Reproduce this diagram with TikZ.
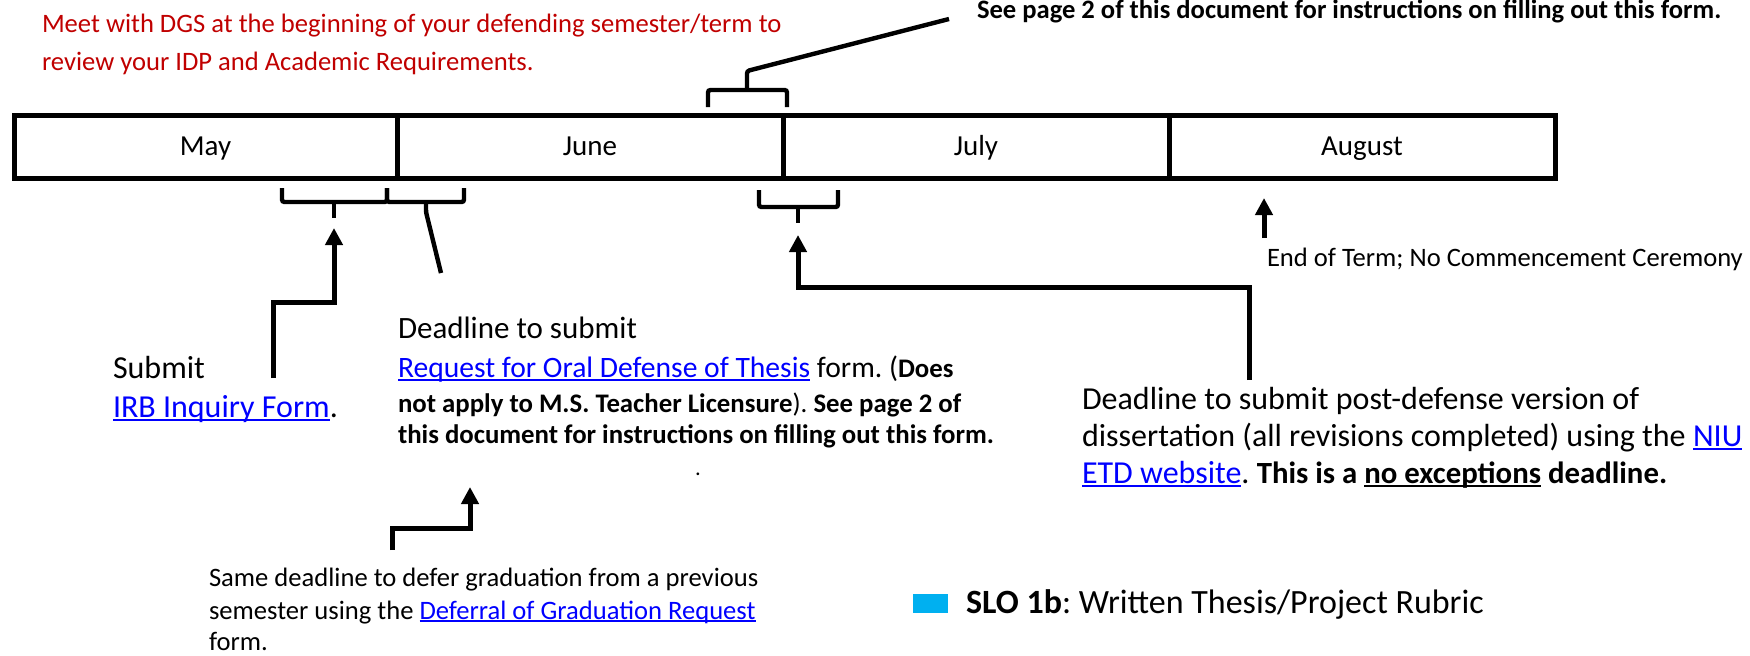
\documentclass[tikz,border=0pt]{standalone}
\usepackage{fontspec}
\setmainfont{Carlito}
\usetikzlibrary{arrows.meta}
\definecolor{darkred}{HTML}{C00000}
\definecolor{linkblue}{HTML}{0000FF}
\definecolor{slo}{HTML}{00B0F0}
\frenchspacing
\newcommand\ulink[1]{\leavevmode\setbox0\hbox{#1}\rlap{\rule[-0.12em]{\wd0}{0.065em}}\box0\relax}
\newcommand\setfs[1]{\fontsize{#1}{#1}\selectfont}
\tikzset{
  txt/.style={anchor=base west, inner sep=0pt, outer sep=0pt},
  month/.style={draw, line width=2.5pt, minimum height=31.5pt, text height=11pt, text depth=2.5pt, inner sep=0pt, font=\setfs{14.5}},
  brk/.style={line width=2.2pt, rounded corners=1.2pt},
  arr/.style={line width=2.5pt, -{Triangle[length=8.5pt,width=8.5pt]}},
}
\begin{document}
\begin{tikzpicture}[x=0.5pt,y=-0.5pt]
\useasboundingbox (0,0) rectangle (1750,655);

% top texts
\node[txt, text=darkred, font=\setfs{13.3}] (red1) at (42,32) {Meet with DGS at the beginning of your defending semester/term to};
\node[txt, text=darkred, font=\setfs{13.3}] (red2) at (42,70) {review your IDP and Academic Requirements.};
\node[txt, font=\setfs{13.3}\bfseries] (see) at (977,18) {See page 2 of this document for instructions on filling out this form.};

% month bar
\node[month, minimum width=191.5pt] (may) at (205.5,147) {May};
\node[month, minimum width=193pt] (june) at (590,147) {June};
\node[month, minimum width=193pt] (july) at (976,147) {July};
\node[month, minimum width=193pt] (aug) at (1362,147) {August};

% top bracket
\coordinate (tbL) at (708,107);
\coordinate (tbR) at (787,107);
\coordinate (tbS) at (747,90);
\coordinate (tbT) at (747,71);
\coordinate (seeEnd) at (949,19);
\draw[brk] (tbL) |- (tbS) -| (tbR);
\draw[brk] (tbS) -- (tbT) -- (seeEnd);

% bottom brackets
\coordinate (aL) at (282,188);
\coordinate (aS) at (334,202);
\coordinate (aR) at (387,188);
\coordinate (aSe) at (334,218);
\draw[brk] (aL) |- (aS) -| (aR);
\draw[brk] (aS) -- (aSe);
\coordinate (bS) at (426,202);
\coordinate (bR) at (464,188);
\coordinate (bS2) at (426,212);
\coordinate (bEnd) at (441,273);
\draw[brk] (aR) |- (bS) -| (bR);
\draw[brk] (bS) -- (bS2) -- (bEnd);
\coordinate (cL) at (759,190);
\coordinate (cS) at (798,207);
\coordinate (cR) at (838,190);
\coordinate (cSe) at (798,223);
\draw[brk] (cL) |- (cS) -| (cR);
\draw[brk] (cS) -- (cSe);

% arrows
\coordinate (a1s) at (273,378);
\coordinate (a1m) at (273,302);
\coordinate (a1t) at (334,228);
\draw[arr] (a1s) -- (a1m) -| (a1t);
\coordinate (a2s) at (1249,380);
\coordinate (a2m) at (1249,287);
\coordinate (a2t) at (798,235);
\draw[arr] (a2s) -- (a2m) -| (a2t);
\coordinate (a3s) at (1264,238);
\coordinate (a3t) at (1264,198);
\draw[arr] (a3s) -- (a3t);
\coordinate (a4s) at (392,550);
\coordinate (a4m) at (392,528);
\coordinate (a4t) at (470,487);
\draw[arr] (a4s) -- (a4m) -| (a4t);

% left texts
\node[txt, font=\setfs{16}] (sub1) at (113,378) {Submit};
\node[txt, font=\setfs{16}] (sub2) at (113,417) {\textcolor{linkblue}{\ulink{IRB Inquiry Form}}.};

% middle block
\node[txt, font=\setfs{15.5}] (d1) at (398,338) {Deadline to submit};
\node[txt, font=\setfs{14.8}] (d2) at (398,377) {\textcolor{linkblue}{\ulink{Request for Oral Defense of Thesis}} form. ({\setfs{13.4}\bfseries Does}};
\node[txt, font=\setfs{13.4}] (d3) at (398,412) {{\bfseries not apply to M.S. Teacher Licensure}). {\bfseries See page 2 of}};
\node[txt, font=\setfs{13.4}\bfseries] (d4) at (398,443) {this document for instructions on filling out this form.};
\node[txt, font=\setfs{11.3}] (dot) at (695,475) {.};

% right block
\node[txt, font=\setfs{16}] (r1) at (1082,409) {Deadline to submit post-defense version of};
\node[txt, font=\setfs{16}] (r2) at (1082,446) {dissertation (all revisions completed) using the \textcolor{linkblue}{\ulink{NIU}}};
\node[txt, font=\setfs{16}] (r3) at (1082,483) {\textcolor{linkblue}{\ulink{ETD website}}. {\setfs{15.4}\bfseries This is a \ulink{no exceptions} deadline.}};

% end of term
\node[txt, font=\setfs{13.3}] (eot) at (1267,266) {End of Term; No Commencement Ceremony};

% bottom block
\node[txt, font=\setfs{13.3}] (b1) at (209,586) {Same deadline to defer graduation from a previous};
\node[txt, font=\setfs{13.3}] (b2) at (209,619) {semester using the \textcolor{linkblue}{\ulink{Deferral of Graduation Request}}};
\node[txt, font=\setfs{13.3}] (b3) at (209,650) {form.};

% legend
\node[fill=slo, minimum width=17.5pt, minimum height=9.5pt, inner sep=0pt] (sq) at (930.5,603.5) {};
\node[txt, font=\setfs{17}] (leg) at (966,613) {{\bfseries SLO 1b}: Written Thesis/Project Rubric};
\end{tikzpicture}
\end{document}
